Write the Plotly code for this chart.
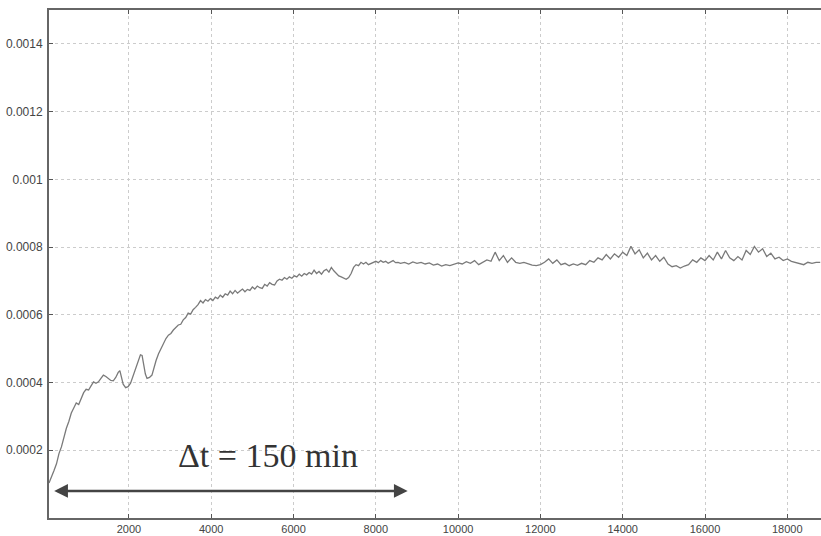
import plotly.graph_objects as go

# ---- data (time in s, signal in units of 1e-4) ----
t_early = [58, 120, 180, 240, 300, 360, 420, 480, 540, 600, 660, 720, 780, 840, 900, 960,
           1020, 1080, 1140, 1200, 1260, 1320, 1380, 1440, 1500, 1560, 1620, 1680, 1740, 1780,
           1820, 1860, 1920, 1980, 2040, 2100, 2160, 2220, 2280, 2320, 2360, 2400, 2440, 2500,
           2560, 2600, 2660, 2720, 2780, 2840, 2900, 2960, 3020, 3080, 3140, 3200, 3260, 3320,
           3380, 3440, 3500, 3560, 3620, 3680, 3740, 3800, 3860, 3920, 3980, 4040, 4100, 4160,
           4220, 4280, 4340, 4400, 4460, 4520, 4580, 4640, 4700, 4760, 4820, 4880, 4940, 5000,
           5060, 5120, 5180, 5240, 5300, 5360, 5420, 5480, 5540, 5600, 5660, 5720, 5780, 5840,
           5900, 5960, 6020, 6080, 6140, 6200, 6260, 6320, 6380, 6440, 6500, 6560, 6620, 6680,
           6740, 6800, 6860, 6920, 6980, 7040, 7100, 7160, 7220, 7280, 7340, 7400, 7460, 7520,
           7580, 7640, 7700, 7760, 7820, 7880, 7940, 8000, 8060, 8120, 8180, 8240, 8300, 8360,
           8420, 8480, 8540]
v_early = [1.03, 1.20, 1.40, 1.60, 1.90, 2.10, 2.40, 2.65, 2.85, 3.10, 3.25, 3.40, 3.35, 3.55, 3.70, 3.80,
           3.78, 3.90, 4.02, 3.98, 4.02, 4.12, 4.22, 4.18, 4.12, 4.06, 4.05, 4.15, 4.30, 4.35,
           4.15, 3.95, 3.85, 3.88, 3.98, 4.20, 4.45, 4.65, 4.82, 4.80, 4.55, 4.25, 4.12, 4.15,
           4.22, 4.40, 4.65, 4.85, 5.00, 5.20, 5.30, 5.40, 5.45, 5.55, 5.62, 5.70, 5.72, 5.85,
           5.92, 6.05, 6.02, 6.15, 6.22, 6.30, 6.42, 6.35, 6.45, 6.40, 6.48, 6.42, 6.52, 6.48,
           6.58, 6.52, 6.62, 6.58, 6.70, 6.62, 6.72, 6.64, 6.70, 6.76, 6.68, 6.75, 6.72, 6.82,
           6.76, 6.85, 6.80, 6.78, 6.90, 6.85, 6.95, 6.90, 6.88, 7.00, 7.05, 7.02, 7.10, 7.05,
           7.12, 7.08, 7.15, 7.12, 7.20, 7.14, 7.22, 7.18, 7.25, 7.20, 7.32, 7.22, 7.28, 7.20,
           7.30, 7.34, 7.26, 7.40, 7.30, 7.22, 7.15, 7.12, 7.08, 7.05, 7.10, 7.22, 7.40, 7.48,
           7.45, 7.55, 7.50, 7.55, 7.48, 7.52, 7.55, 7.58, 7.54, 7.60, 7.55, 7.58, 7.52, 7.56,
           7.60, 7.54, 7.55]

t_late = [8600, 8700, 8800, 8900, 9000, 9100, 9200, 9300, 9400, 9500, 9600, 9700, 9800, 9900,
          10000, 10100, 10200, 10300, 10400, 10500, 10600, 10700, 10800, 10900, 11000, 11100,
          11200, 11300, 11400, 11500, 11600, 11700, 11800, 11900, 12000, 12100, 12200, 12300,
          12400, 12500, 12600, 12700, 12800, 12900, 13000, 13100, 13200, 13300, 13400, 13500,
          13600, 13700, 13800, 13900, 14000, 14100, 14200, 14300, 14400, 14500, 14600, 14700,
          14800, 14900, 15000, 15100, 15200, 15300, 15400, 15500, 15600, 15700, 15800, 15900,
          16000, 16100, 16200, 16300, 16400, 16500, 16600, 16700, 16800, 16900, 17000, 17100,
          17200, 17300, 17400, 17500, 17600, 17700, 17800, 17900, 18000, 18100, 18200, 18300,
          18400, 18500, 18600, 18700, 18800]
v_late = [7.52, 7.55, 7.50, 7.56, 7.52, 7.55, 7.50, 7.53, 7.47, 7.50, 7.44, 7.48, 7.45, 7.50,
          7.53, 7.50, 7.57, 7.52, 7.60, 7.48, 7.55, 7.62, 7.58, 7.85, 7.60, 7.75,
          7.55, 7.68, 7.55, 7.52, 7.55, 7.50, 7.47, 7.45, 7.48, 7.55, 7.65, 7.52,
          7.62, 7.48, 7.52, 7.45, 7.50, 7.46, 7.52, 7.48, 7.60, 7.55, 7.68, 7.62,
          7.78, 7.65, 7.80, 7.70, 7.85, 7.75, 8.02, 7.80, 7.92, 7.68, 7.82, 7.62,
          7.75, 7.58, 7.70, 7.50, 7.42, 7.45, 7.38, 7.44, 7.48, 7.62, 7.55, 7.68,
          7.60, 7.75, 7.62, 7.85, 7.65, 7.90, 7.68, 7.60, 7.72, 7.62, 7.90, 7.78,
          8.02, 7.85, 7.95, 7.72, 7.82, 7.65, 7.70, 7.60, 7.65, 7.58, 7.55, 7.50,
          7.48, 7.55, 7.52, 7.55, 7.55]

SCALE = 1e-4
t = t_early + t_late
y = [v * SCALE for v in v_early + v_late]

x_ticks = [2000, 4000, 6000, 8000, 10000, 12000, 14000, 16000, 18000]
y_ticks = [0.0002, 0.0004, 0.0006, 0.0008, 0.001, 0.0012, 0.0014]
y_tick_text = ["0.0002", "0.0004", "0.0006", "0.0008", "0.001", "0.0012", "0.0014"]

arrow_start, arrow_end, arrow_level = 148, 8774, 0.0000798
label_text = "\u0394t = 150 min"
label_x, label_y = 5385, 0.000186

fig = go.Figure()
fig.add_trace(go.Scatter(x=t, y=y, mode="lines",
                         line=dict(color="#7a7a7a", width=1.3), hoverinfo="skip"))

fig.add_annotation(x=arrow_end, y=arrow_level, ax=arrow_start, ay=arrow_level,
                   xref="x", yref="y", axref="x", ayref="y", text="",
                   showarrow=True, arrowhead=2, arrowsize=1.1, arrowwidth=2.5,
                   arrowcolor="#444444", arrowside="end+start")
fig.add_annotation(x=label_x, y=label_y, xref="x", yref="y", text=label_text,
                   showarrow=False, xanchor="center", yanchor="middle",
                   font=dict(family="Liberation Serif, Times New Roman, serif",
                             size=34, color="#333333"))

x_font = dict(family="Liberation Sans, Arial, sans-serif", size=11, color="#444444")
y_font = dict(family="Liberation Sans, Arial, sans-serif", size=12, color="#444444")
fig.update_layout(
    width=821, height=536,
    margin=dict(l=49, r=0, t=10, b=18),
    paper_bgcolor="white", plot_bgcolor="white",
    showlegend=False,
    xaxis=dict(range=[58, 18819], tickvals=x_ticks, ticktext=[str(v) for v in x_ticks],
               showgrid=True, gridcolor="#cccccc", griddash="dot", gridwidth=1,
               showline=True, linecolor="#666666", linewidth=2, mirror="ticks",
               ticks="inside", ticklen=4, tickcolor="#555555",
               zeroline=False, tickfont=x_font),
    yaxis=dict(range=[0, 0.0015], tickvals=y_ticks, ticktext=y_tick_text,
               showgrid=True, gridcolor="#cccccc", griddash="dot", gridwidth=1,
               showline=True, linecolor="#666666", linewidth=2, mirror=False,
               ticks="inside", ticklen=4, tickcolor="#555555",
               zeroline=False, tickfont=y_font, ticklabelstandoff=2),
)

fig.write_html("out.html")
